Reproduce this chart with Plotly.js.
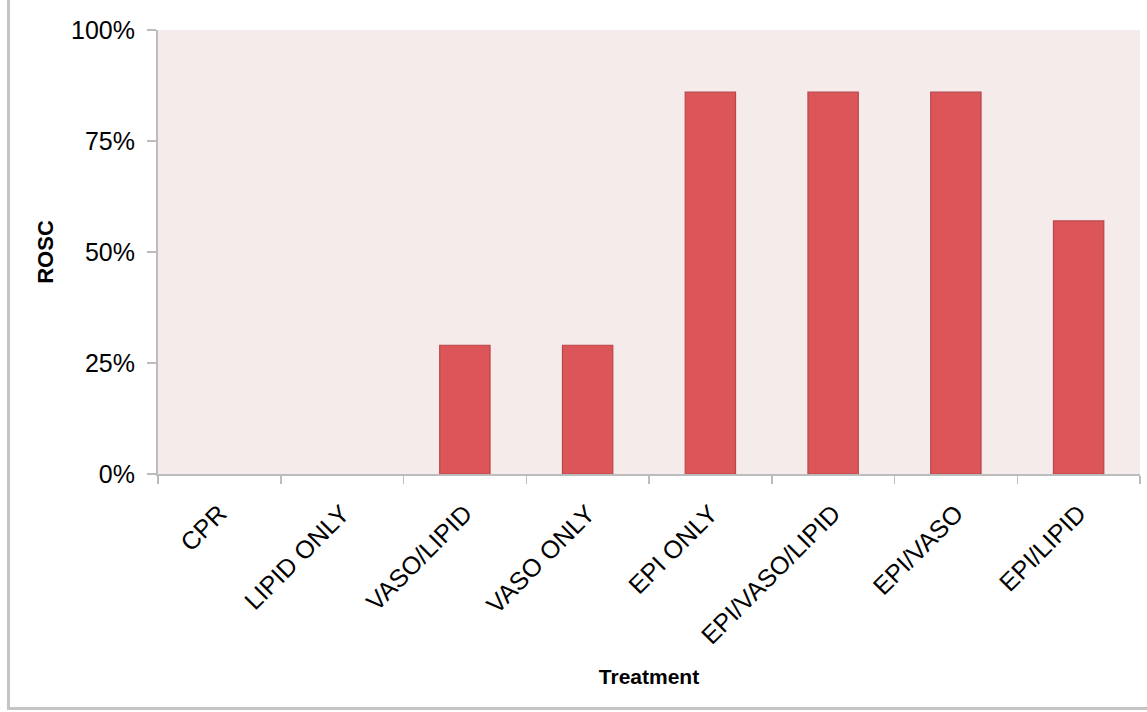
<!DOCTYPE html>
<html>
<head>
<meta charset="utf-8">
<script src="https://cdn.plot.ly/plotly-3.0.1.min.js"></script>
<style>
  html, body { margin: 0; padding: 0; background: #ffffff; }
  #frame {
    position: absolute; left: 7px; top: 0; width: 1140px; height: 710px;
    border-left: 3px solid #c4c4c4; border-bottom: 3px solid #c4c4c4;
    box-sizing: border-box;
  }
  #chart { position: absolute; left: 0; top: 0; width: 1147px; height: 712px; }
</style>
</head>
<body>
<div id="frame"></div>
<div id="chart"></div>
<script>
// Return of spontaneous circulation by treatment group
const treatments = ["CPR", "LIPID ONLY", "VASO/LIPID", "VASO ONLY", "EPI ONLY", "EPI/VASO/LIPID", "EPI/VASO", "EPI/LIPID"];
const roscRate = [0, 0, 0.29, 0.29, 0.86, 0.86, 0.86, 0.57];
const yTickValues = [0, 0.25, 0.5, 0.75, 1];
const yTickLabels = ["0%", "25%", "50%", "75%", "100%"];

const axisGray = "#bcbcbc";
const textFont = "Liberation Sans, Arial, sans-serif";

const trace = {
  type: "bar",
  x: treatments,
  y: roscRate,
  marker: {
    color: "#dc5659",
    // empty groups get no outline so nothing shows on the baseline
    line: { color: "#b9464a", width: roscRate.map(v => (v > 0 ? 1.2 : 0)) }
  },
  hoverinfo: "x+y"
};

const layout = {
  width: 1147,
  height: 712,
  margin: { l: 158, r: 7, t: 30, b: 238 },
  paper_bgcolor: "rgba(0,0,0,0)",
  plot_bgcolor: "#f6ebeb",
  bargap: 0.59,
  showlegend: false,
  font: { family: textFont, color: "#000000" },
  xaxis: {
    type: "category",
    tickangle: -45,
    tickson: "boundaries",
    ticks: "outside",
    ticklen: 8,
    tickwidth: 1.5,
    tickcolor: axisGray,
    ticklabelstandoff: 13,
    showline: true,
    linecolor: axisGray,
    linewidth: 2,
    showgrid: false,
    tickfont: { family: textFont, size: 25, color: "#000000" },
    title: { text: "<b>Treatment</b>", font: { family: textFont, size: 21, color: "#000000" }, standoff: 21 }
  },
  yaxis: {
    range: [0, 1],
    tickvals: yTickValues,
    ticktext: yTickLabels,
    ticks: "outside",
    ticklen: 9,
    tickwidth: 1.5,
    tickcolor: axisGray,
    ticklabelstandoff: 7,
    showline: true,
    linecolor: axisGray,
    linewidth: 2,
    showgrid: false,
    zeroline: false,
    tickfont: { family: textFont, size: 25, color: "#000000" },
    title: { text: "<b>ROSC</b>", font: { family: textFont, size: 22, color: "#000000" }, standoff: 11 }
  }
};

Plotly.newPlot("chart", [trace], layout, { displayModeBar: false, staticPlot: true });
</script>
</body>
</html>
